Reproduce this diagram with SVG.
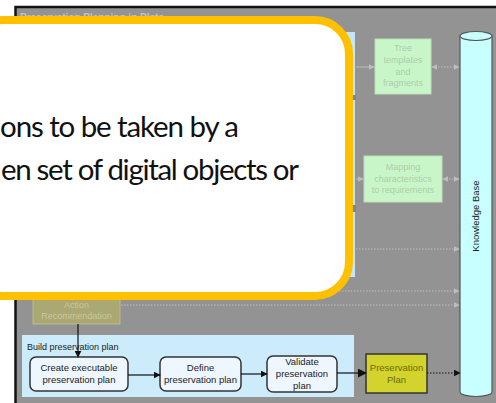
<svg xmlns="http://www.w3.org/2000/svg" width="496" height="403" viewBox="0 0 496 403">
<defs>
<marker id="ah-light" viewBox="0 0 10 10" refX="9" refY="5" markerWidth="6" markerHeight="6" orient="auto-start-reverse" markerUnits="userSpaceOnUse"><path d="M0,0 L10,5 L0,10 Z" fill="#bdbdbd"/></marker>
<marker id="ah-dark" viewBox="0 0 10 10" refX="9" refY="5" markerWidth="7" markerHeight="7" orient="auto" markerUnits="userSpaceOnUse"><path d="M0,0 L10,5 L0,10 Z" fill="#111"/></marker>
<marker id="ah-big" viewBox="0 0 10 10" refX="9" refY="5" markerWidth="9" markerHeight="9" orient="auto" markerUnits="userSpaceOnUse"><path d="M0,0 L10,5 L0,10 Z" fill="#111"/></marker>
</defs>
<style>
.t{font-family:"Liberation Sans",Arial,sans-serif;font-size:9.5px;text-anchor:middle;fill:#222}
.faintg{fill:#a9cfa9;font-size:9px}
.faintk{fill:#c9c79b;font-size:9px}
.lite{stroke:#bdbdbd;stroke-width:1;fill:none}
.dot{stroke-dasharray:1.5 1.5}
.blk{stroke:#111;stroke-width:1.2;fill:none}
.step{fill:#eef7ff;stroke:#333;stroke-width:1.5}
.call{font-family:Lato,"Open Sans",sans-serif;font-size:29.5px;fill:#111}
</style>
<rect x="0" y="0" width="496" height="403" fill="#fff"/>
<g id="slide">
<rect x="15" y="6" width="481" height="397" fill="#939393"/>
<path d="M15.5,403 V7 H496" fill="none" stroke="#111" stroke-width="2.5"/>
<text x="20" y="21" font-family="Liberation Sans,Arial,sans-serif" font-size="10" font-weight="bold" fill="#c4c4c4">Preservation Planning in Plato</text>
</g>
<g id="left-panel">
<rect x="22" y="32" width="333" height="245" fill="#c6e6f8"/>
<rect x="351" y="95" width="5" height="5" fill="#858585"/>
<rect x="351" y="205" width="5" height="7" fill="#858585"/>
</g>
<g id="tree-templates">
<rect x="375" y="39" width="56" height="55" fill="#c9f6c9" stroke="#b8e0b8"/>
<text class="t faintg" x="403" y="51">Tree</text>
<text class="t faintg" x="403" y="63">templates</text>
<text class="t faintg" x="403" y="75">and</text>
<text class="t faintg" x="403" y="86">fragments</text>
</g>
<g id="mapping">
<rect x="364" y="156" width="78" height="46" fill="#c9f6c9" stroke="#b8e0b8"/>
<text class="t faintg" x="403" y="170">Mapping</text>
<text class="t faintg" x="403" y="182">characteristics</text>
<text class="t faintg" x="403" y="193">to requirements</text>
</g>
<g id="knowledge-base">
<path d="M460,36 V392 A16,4.5 0 0 0 492,392 V36 Z" fill="#c8ffff" stroke="#555" stroke-width="1.2"/>
<ellipse cx="476" cy="36" rx="16" ry="4.5" fill="#c8ffff" stroke="#555" stroke-width="1.2"/>
<text class="t" x="476" y="219" transform="rotate(-90 476 216)">Knowledge Base</text>
</g>
<g id="action-recommendation">
<rect x="33" y="270" width="87" height="54" fill="#aaa873" stroke="#bdbb8a"/>
<text class="t faintk" x="76.5" y="308">Action</text>
<text class="t faintk" x="76.5" y="319">Recommendation</text>
</g>
<g id="build-plan">
<rect x="22" y="335" width="332" height="62" fill="#ccecfc"/>
<text class="t" x="27" y="350" style="text-anchor:start;font-size:9px">Build preservation plan</text>
</g>
<g id="create-plan">
<rect class="step" x="30" y="357" width="98" height="34" rx="6"/>
<text class="t" x="79" y="371">Create executable</text>
<text class="t" x="79" y="383">preservation plan</text>
</g>
<g id="define-plan">
<rect class="step" x="160" y="357" width="81" height="34" rx="6"/>
<text class="t" x="200.5" y="371">Define</text>
<text class="t" x="200.5" y="383">preservation plan</text>
</g>
<g id="validate-plan">
<rect class="step" x="267" y="356" width="70" height="36" rx="6"/>
<text class="t" x="302" y="365">Validate</text>
<text class="t" x="302" y="377">preservation</text>
<text class="t" x="302" y="389">plan</text>
</g>
<g id="preservation-plan">
<rect x="366" y="354" width="61" height="39" fill="#d3d32e" stroke="#333" stroke-width="1.5"/>
<text class="t" x="396.5" y="371" style="fill:#6b6b00">Preservation</text>
<text class="t" x="396.5" y="383" style="fill:#6b6b00">Plan</text>
</g>
<g id="connectors">
<line class="lite" x1="356" y1="67" x2="374" y2="67" marker-end="url(#ah-light)"/>
<line class="lite dot" x1="432" y1="67" x2="459" y2="67" marker-start="url(#ah-light)" marker-end="url(#ah-light)"/>
<line class="lite" x1="356" y1="179" x2="363" y2="179" marker-end="url(#ah-light)"/>
<line class="lite dot" x1="443" y1="179" x2="459" y2="179" marker-start="url(#ah-light)" marker-end="url(#ah-light)"/>
<line class="lite dot" x1="356" y1="249" x2="459" y2="249" marker-end="url(#ah-light)"/>
<line class="lite dot" x1="300" y1="291" x2="459" y2="291" marker-end="url(#ah-light)"/>
<line class="lite dot" x1="121" y1="305" x2="459" y2="305" marker-end="url(#ah-light)"/>
<line class="blk" x1="78" y1="324" x2="78" y2="357" marker-end="url(#ah-dark)"/>
<line class="blk" x1="128" y1="375" x2="160" y2="375" marker-end="url(#ah-dark)"/>
<line class="blk" x1="241" y1="374" x2="267" y2="374" marker-end="url(#ah-dark)"/>
<line class="blk" x1="337" y1="373" x2="366" y2="373" stroke-width="1.6" marker-end="url(#ah-big)"/>
<line class="blk dot" x1="427" y1="373" x2="460" y2="373" marker-end="url(#ah-dark)"/>
</g>
<g id="callout">
<rect x="-30" y="20" width="379" height="276" rx="34" fill="#fff" stroke="#FFC000" stroke-width="8"/>
<text class="call" x="0" y="137" textLength="239" lengthAdjust="spacing">ons to be taken by a</text>
<text class="call" x="1" y="180" textLength="298" lengthAdjust="spacing">en set of digital objects or</text>
</g>
</svg>
